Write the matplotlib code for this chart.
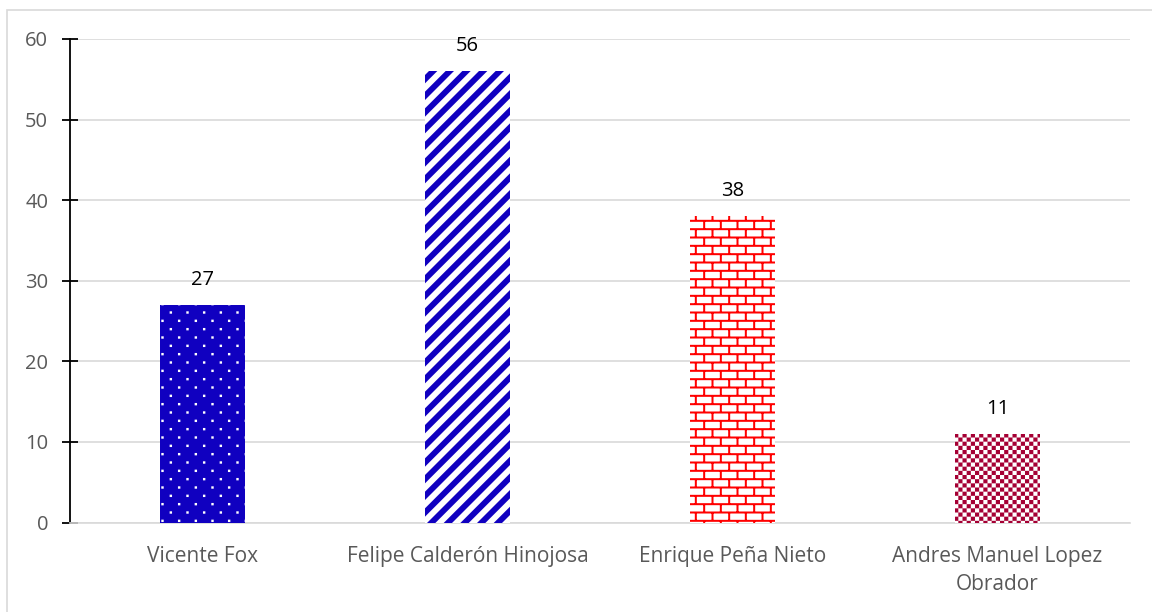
import warnings
import numpy as np
import matplotlib
matplotlib.use('Agg')
import matplotlib.pyplot as plt
import matplotlib.hatch as mhatch
from matplotlib.path import Path
from matplotlib.patches import Rectangle

warnings.filterwarnings('ignore')

# data
presidents = ['Vicente Fox', 'Felipe Calderón Hinojosa', 'Enrique Peña Nieto',
              'Andres Manuel Lopez\nObrador']
values = [27, 56, 38, 11]
y_ticks = [0, 10, 20, 30, 40, 50, 60]

# styles
face_colors = ['#1000C0', 'white', 'white', 'white']
pattern_colors = ['white', '#1000C0', '#FF0000', '#A50034']
patterns = ['D', 'S', 'B', 'C']


# custom fill patterns (dots, stripes, bricks, checks), one hatch cell = 1x1
class PolyHatch(mhatch.HatchPatternBase):
    char = ''

    def __init__(self, hatch, density):
        self.polys = self.make_polys() if self.char in hatch else []
        self.num_vertices = 5 * len(self.polys)

    def make_polys(self):
        return []

    def set_vertices_and_codes(self, vertices, codes):
        for i, poly in enumerate(self.polys):
            vertices[5 * i:5 * i + 4] = poly
            vertices[5 * i + 4] = poly[0]
            codes[5 * i] = Path.MOVETO
            codes[5 * i + 1:5 * i + 4] = Path.LINETO
            codes[5 * i + 4] = Path.CLOSEPOLY


def box(x0, y0, x1, y1):
    return [(x0, y0), (x1, y0), (x1, y1), (x0, y1)]


class DotHatch(PolyHatch):
    char = 'D'

    def make_polys(self):
        polys = []
        s = 0.012
        for r in range(12):
            for c in range(6):
                x = (c + 0.25 + 0.5 * (r % 2)) / 6
                y = (r + 0.5) / 12
                polys.append(box(x - s, y - s, x + s, y + s))
        return polys


class StripeHatch(PolyHatch):
    char = 'S'

    def make_polys(self):
        polys = []
        w = 1 / 12
        for k in range(-7, 7):
            a = k / 6
            polys.append([(a, 0), (a + w, 0), (a + w + 1, 1), (a + 1, 1)])
        return polys


class BrickHatch(PolyHatch):
    char = 'B'

    def make_polys(self):
        polys = []
        t = 0.01
        for r in range(12):
            y = (r + 0.5) / 12
            polys.append(box(0, y - t, 1, y + t))
        for r in range(-1, 12):
            y0 = (r + 0.5) / 12
            y1 = (r + 1.5) / 12
            for c in range(6):
                x = (c + 0.25 + 0.5 * (r % 2)) / 6
                polys.append(box(x - t, y0, x + t, y1))
        return polys


class CheckHatch(PolyHatch):
    char = 'C'

    def make_polys(self):
        polys = []
        n = 24
        for i in range(n):
            for j in range(n):
                if (i + j) % 2 == 0:
                    polys.append(box(i / n, j / n, (i + 1) / n, (j + 1) / n))
        return polys


mhatch._hatch_types.extend([DotHatch, StripeHatch, BrickHatch, CheckHatch])

plt.rcParams['font.family'] = ['Open Sans', 'DejaVu Sans']
plt.rcParams['hatch.linewidth'] = 0.01

fig = plt.figure(figsize=(11.52, 6.12), dpi=100)
ax = fig.add_axes([70 / 1152, 1 - 522.5 / 612, 1060 / 1152, 483.5 / 612])

x = np.arange(len(presidents))
bars = ax.bar(x, values, width=0.32, color=face_colors, edgecolor=pattern_colors,
              linewidth=0, zorder=3)
for bar, pat in zip(bars, patterns):
    bar.set_hatch(pat)

for xi, v in zip(x, values):
    ax.annotate(str(v), (xi, v), xytext=(0, 11), textcoords='offset points',
                ha='center', va='bottom', fontsize=14.5, color='black')

ax.set_xlim(-0.5, len(presidents) - 0.5)
ax.set_ylim(0, 60)
ax.set_yticks(y_ticks)
ax.set_xticks(x)
ax.set_xticklabels(presidents)
for lbl in ax.get_xticklabels():
    lbl.set_linespacing(1.45)

ax.grid(axis='y', color='#D9D9D9', linewidth=1.2, zorder=0)
ax.set_axisbelow(True)
for side in ['top', 'right']:
    ax.spines[side].set_visible(False)
ax.spines['bottom'].set_color('#D9D9D9')
ax.spines['bottom'].set_linewidth(1.2)
ax.spines['left'].set_color('black')
ax.spines['left'].set_linewidth(1.3)

ax.tick_params(axis='y', direction='inout', length=11.5, width=1.3, color='black',
               pad=10, labelsize=14.5, labelcolor='#595959')
ax.tick_params(axis='x', length=0, pad=17, labelsize=15, labelcolor='#595959')

# outer chart border
fig.add_artist(Rectangle((7 / 1152, -0.1), 1.2, 1.1 - 10 / 612, transform=fig.transFigure,
                         fill=False, edgecolor='#D9D9D9', linewidth=1.2))

fig.savefig('out.png', dpi=100)
